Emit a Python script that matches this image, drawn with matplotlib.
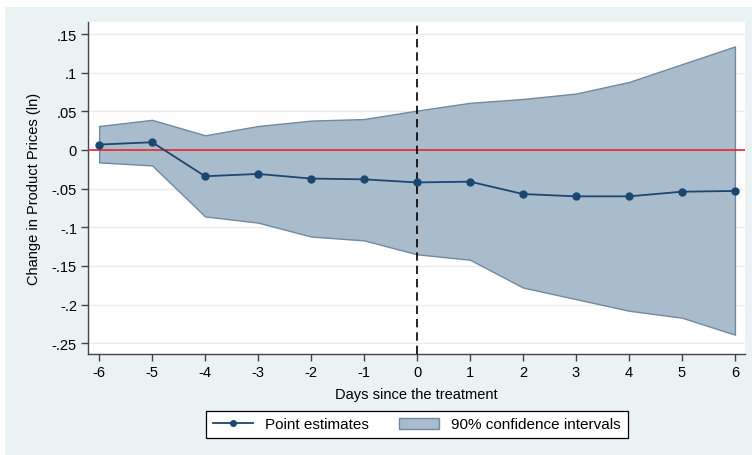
import matplotlib.pyplot as plt
import matplotlib.patches as patches
from matplotlib.lines import Line2D

plt.rcParams['font.family'] = ['Liberation Sans', 'DejaVu Sans']

# data
days = [-6, -5, -4, -3, -2, -1, 0, 1, 2, 3, 4, 5, 6]
point_est = [0.007, 0.010, -0.034, -0.031, -0.037, -0.038, -0.042, -0.041,
             -0.057, -0.060, -0.060, -0.054, -0.053]
ci_upper = [0.031, 0.039, 0.019, 0.031, 0.038, 0.040, 0.051, 0.061,
            0.066, 0.073, 0.088, 0.111, 0.134]
ci_lower = [-0.016, -0.020, -0.086, -0.094, -0.112, -0.117, -0.135, -0.142,
            -0.178, -0.193, -0.208, -0.217, -0.239]
y_ticks = [0.15, 0.1, 0.05, 0, -0.05, -0.1, -0.15, -0.2, -0.25]
y_labels = [".15", ".1", ".05", "0", "-.05", "-.1", "-.15", "-.2", "-.25"]

bg = "#eaf2f3"
navy = "#1a476f"
fill_c = "#a9bccb"
edge_c = "#7189a3"

fig = plt.figure(figsize=(7.52, 4.56), dpi=100)
fig.patch.set_facecolor("white")
# stata-like graph region (light blue-grey panel behind everything)
fig.patches.append(patches.Rectangle((5 / 752, 0), 1, 1 - 8 / 456,
                                     transform=fig.transFigure,
                                     facecolor=bg, edgecolor="none", zorder=-5))

ax = fig.add_axes([88 / 752, 1 - 355 / 456, (745 - 88) / 752, (355 - 23) / 456])
ax.set_zorder(2)
ax.set_facecolor("white")

ax.fill_between(days, ci_lower, ci_upper, facecolor=fill_c, edgecolor=edge_c,
                linewidth=1.0, zorder=2)
ax.axhline(0, color="#e8262a", linewidth=1.2, zorder=3)
ax.axvline(0, color="black", linestyle=(0, (5, 3)), linewidth=1.2, zorder=3)
ax.plot(days, point_est, color=navy, linewidth=1.3, marker="o", markersize=5,
        zorder=4)

ax.set_xlim(-6.21, 6.19)
ax.set_ylim(-0.264, 0.1656)
ax.set_xticks(days)
ax.set_xticklabels([str(d) for d in days])
ax.set_yticks(y_ticks)
ax.set_yticklabels(y_labels)
ax.grid(axis="y", color="#ebebeb", linewidth=1.0, zorder=1)
ax.set_axisbelow(True)

for s in ["top", "right"]:
    ax.spines[s].set_visible(False)
for s in ["left", "bottom"]:
    ax.spines[s].set_color("#444444")
    ax.spines[s].set_linewidth(1.0)
ax.tick_params(axis="both", direction="out", length=5, width=1.0,
               color="#444444", labelsize=10.5, pad=3)

ax.set_ylabel("Change in Product Prices (ln)", fontsize=10.5, labelpad=8)
ax.set_xlabel("Days since the treatment", fontsize=10.5, labelpad=6)

handles = [
    Line2D([0], [0], color=navy, linewidth=1.3, marker="o", markersize=4),
    patches.Patch(facecolor=fill_c, edgecolor=edge_c, linewidth=1.0),
]
leg = fig.legend(handles, ["Point estimates", "90% confidence intervals"],
                 loc="center", bbox_to_anchor=(417 / 752, 1 - 425.5 / 456),
                 ncol=2, frameon=True, fancybox=False, edgecolor="black",
                 framealpha=1, fontsize=11, handlelength=2.6,
                 columnspacing=2.0, borderpad=0.45)
leg.get_frame().set_linewidth(0.9)

fig.savefig("out.png", dpi=100, facecolor=fig.get_facecolor())
